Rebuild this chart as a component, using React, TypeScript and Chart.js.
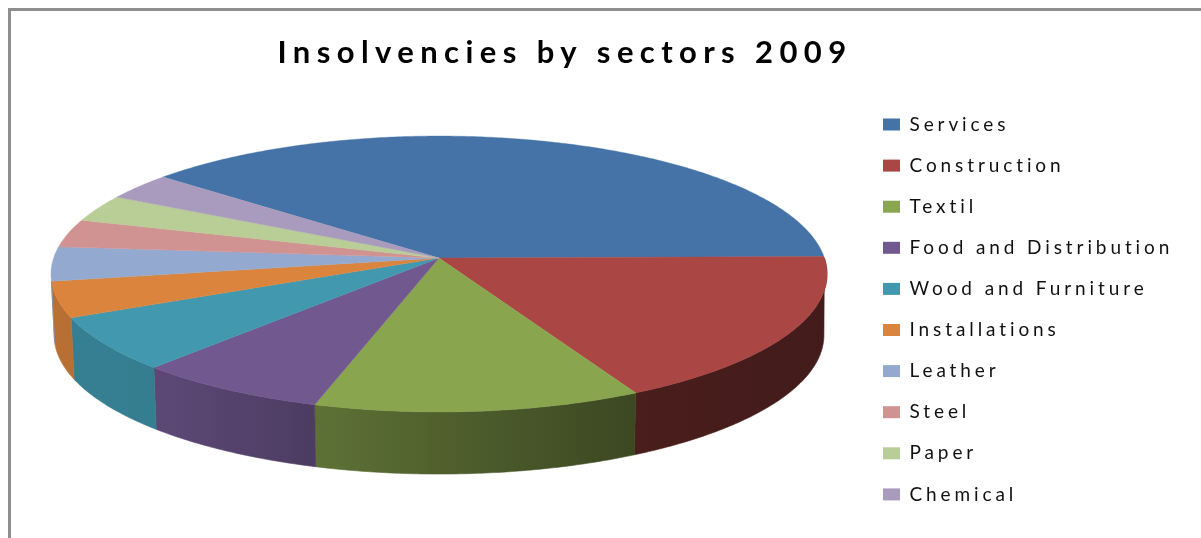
import React, { useEffect, useRef } from "react";
import { Chart, registerables } from "chart.js";

Chart.register(...registerables);

const titleText = "Insolvencies by sectors 2009";
const categories = ["Services", "Construction", "Textil", "Food and Distribution", "Wood and Furniture", "Installations", "Leather", "Steel", "Paper", "Chemical"];
const shares = [38.8, 17.6, 12.2, 7.2, 6.3, 4.2, 4.0, 3.3, 3.2, 3.2];
const colours = ["#4573a7", "#aa4643", "#89a54e", "#71588f", "#4198af", "#db843d", "#93a9cf", "#d19392", "#b9cd96", "#a99bbd"];

// projection of the flat pie onto the tilted view
const view = { cx: 439, cy: 258, A: 385.4, a: 136.1, b: 0.116, depth: 61, shrinkX: 0.992, shrinkY: 1.007 };
// part of the rim (radians, clockwise from the right) whose outer wall is shown
const wallFrom = 0;
const wallTo = 2.974;
// the lower rim is widest here, so the wall's right edge starts from this angle
const lowerRimFrom = 0.117;

function project(theta: number, level: number) {
  const x = Math.cos(theta);
  const y = Math.sin(theta);
  const w = 1 - view.b * y;
  const sx = level ? view.shrinkX : 1;
  const sy = level ? view.shrinkY : 1;
  return { x: view.cx + (sx * view.A * x) / w, y: view.cy + level * view.depth + (sy * view.a * y) / w };
}

function shade(theta: number) {
  const deg = (theta * 180) / Math.PI;
  const stops: [number, number][] = [[-20, 0.38], [62, 0.43], [106, 0.68], [132, 0.82], [200, 0.87]];
  for (let i = 1; i < stops.length; i++) {
    if (deg <= stops[i][0]) {
      const t = Math.max(0, (deg - stops[i - 1][0]) / (stops[i][0] - stops[i - 1][0]));
      return stops[i - 1][1] + t * (stops[i][1] - stops[i - 1][1]);
    }
  }
  return 0.87;
}

function darken(hex: string, f: number) {
  const n = parseInt(hex.slice(1), 16);
  return `rgb(${Math.round(((n >> 16) & 255) * f)},${Math.round(((n >> 8) & 255) * f)},${Math.round((n & 255) * f)})`;
}

const tiltedPie = {
  id: "tiltedPie",
  afterLayout(chart: any) {
    const ctx = chart.ctx;
    const t = chart.titleBlock;
    t.left = 0;
    t.right = 1130;
    t.top = 34;
    t.bottom = 82;
    if (!t.__wrapped) {
      const d = t.draw.bind(t);
      t.draw = () => {
        ctx.save();
        ctx.letterSpacing = "6.4px";
        d();
        ctx.restore();
      };
      t.__wrapped = true;
    }
    const l = chart.legend;
    const pad = l.options.labels.padding;
    l.left = 883 - pad;
    l.top = 115 - pad;
    l.right = 1201;
    l.width = 1201 - l.left;
    l.bottom = 538;
    l.height = 538 - l.top;
    if (!l.__wrapped) {
      const d = l.draw.bind(l);
      l.draw = () => {
        ctx.save();
        ctx.letterSpacing = "3.9px";
        d();
        ctx.restore();
      };
      l.__wrapped = true;
    }
  },
  beforeDatasetDraw(chart: any, args: any) {
    const ctx = chart.ctx;
    const arcs = args.meta.data;
    const TWO = Math.PI * 2;
    ctx.save();
    arcs.forEach((arc: any, i: number) => {
      const { startAngle, endAngle } = arc.getProps(["startAngle", "endAngle"]);
      // try the slice at every full-turn offset so a slice that wraps the right edge is also caught
      [-TWO, 0, TWO].forEach((off) => {
        const from = Math.max(startAngle + off, wallFrom);
        const to = Math.min(endAngle + off, wallTo);
        if (to <= from) return;
        const n = Math.max(2, Math.ceil((to - from) / 0.01));
        const top: { x: number; y: number }[] = [];
        const bottom: { x: number; y: number }[] = [];
        for (let k = 0; k <= n; k++) {
          const th = from + ((to - from) * k) / n;
          top.push(project(th, 0));
          bottom.push(project(Math.max(th, lowerRimFrom), 1));
        }
        const x0 = project(to, 1).x;
        const x1 = project(from, 1).x;
        const grad = ctx.createLinearGradient(x0, 0, x1 === x0 ? x0 + 1 : x1, 0);
        for (let k = 0; k <= 8; k++) {
          grad.addColorStop(k / 8, darken(colours[i], shade(to + ((from - to) * k) / 8)));
        }
        ctx.beginPath();
        top.forEach((p, k) => (k ? ctx.lineTo(p.x, p.y) : ctx.moveTo(p.x, p.y)));
        bottom.reverse().forEach((p) => ctx.lineTo(p.x, p.y));
        ctx.closePath();
        ctx.fillStyle = grad;
        ctx.strokeStyle = grad;
        ctx.lineWidth = 0.6;
        ctx.fill();
        ctx.stroke();
      });
    });
    arcs.forEach((arc: any, i: number) => {
      const { startAngle, endAngle } = arc.getProps(["startAngle", "endAngle"]);
      const n = Math.max(2, Math.ceil((endAngle - startAngle) / 0.01));
      ctx.beginPath();
      ctx.moveTo(view.cx, view.cy);
      for (let k = 0; k <= n; k++) {
        const p = project(startAngle + ((endAngle - startAngle) * k) / n, 0);
        ctx.lineTo(p.x, p.y);
      }
      ctx.closePath();
      ctx.fillStyle = colours[i];
      ctx.strokeStyle = colours[i];
      ctx.lineWidth = 0.4;
      ctx.fill();
      ctx.stroke();
    });
    ctx.restore();
    return false;
  },
};

export default function App() {
  const ref = useRef<HTMLCanvasElement>(null);
  useEffect(() => {
    const chart = new Chart(ref.current!, {
      type: "pie",
      data: {
        labels: categories,
        datasets: [{ data: shares, backgroundColor: colours, borderWidth: 0 }],
      },
      options: {
        animation: false,
        responsive: false,
        devicePixelRatio: 1,
        rotation: 309.7,
        plugins: {
          tooltip: { enabled: false },
          title: {
            display: true,
            text: titleText,
            color: "#000000",
            align: "center",
            padding: 0,
            font: { family: "Lato", size: 31, weight: "bold" },
          },
          legend: {
            display: true,
            position: "right",
            align: "start",
            labels: {
              boxWidth: 17,
              boxHeight: 12,
              padding: 22.1,
              color: "#111111",
              font: { family: "Lato", size: 19 },
            },
          },
        },
      } as any,
      plugins: [tiltedPie],
    });
    return () => chart.destroy();
  }, []);
  return (
    <div style={{ position: "fixed", left: 0, top: 0, width: 1201, height: 538, overflow: "hidden", background: "#fff" }}>
      <canvas ref={ref} width={1201} height={538} style={{ display: "block" }} />
      <div style={{ position: "absolute", left: 8, top: 8, width: 1193, height: 530, borderLeft: "3px solid #8f8f8f", borderTop: "3px solid #8f8f8f", boxSizing: "border-box" }} />
    </div>
  );
}
